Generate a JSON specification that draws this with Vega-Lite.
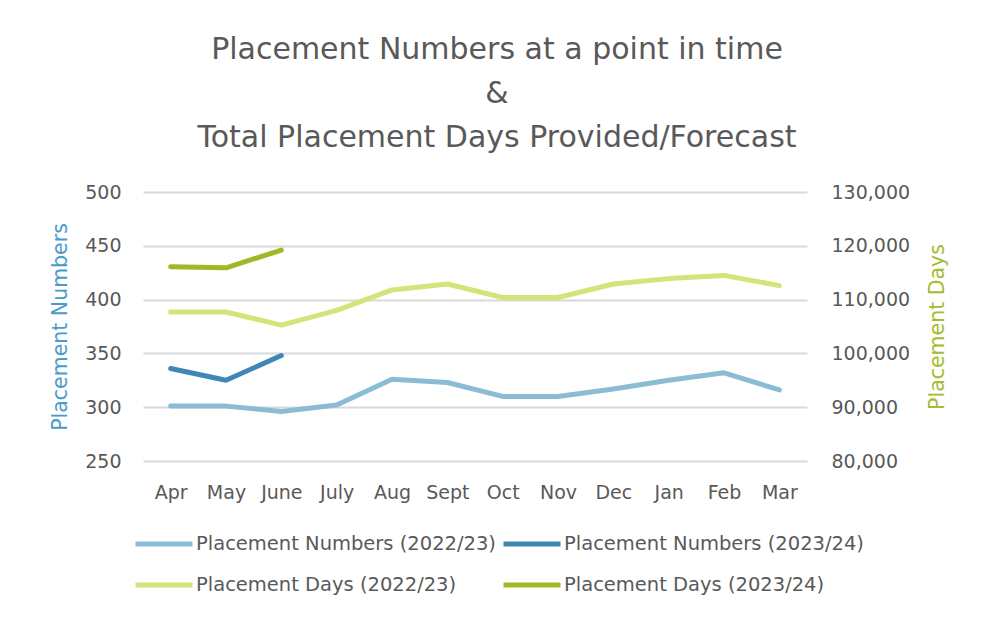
{
  "$schema": "https://vega.github.io/schema/vega-lite/v6.json",
  "width": 664,
  "height": 269,
  "autosize": {"type": "none"},
  "padding": {"left": 143, "top": 192, "right": 174, "bottom": 159},
  "background": "white",
  "title": {
    "text": ["Placement Numbers at a point in time", "&", "Total Placement Days Provided/Forecast"],
    "font": "DejaVu Sans",
    "fontSize": 30,
    "fontWeight": "normal",
    "color": "#595959",
    "lineHeight": 44,
    "anchor": "middle",
    "frame": "group",
    "dx": 22,
    "offset": 30
  },
  "config": {
    "view": {"stroke": null},
    "axis": {
      "labelFont": "DejaVu Sans",
      "labelFontSize": 19,
      "labelColor": "#595959",
      "titleFont": "DejaVu Sans",
      "titleFontSize": 20.5,
      "titleFontWeight": "normal",
      "domain": false,
      "ticks": false,
      "labelOverlap": false,
      "gridColor": "#D9D9D9",
      "gridWidth": 2
    },
    "legend": {
      "labelFont": "DejaVu Sans",
      "labelFontSize": 19.5,
      "labelColor": "#595959",
      "labelLimit": 500
    }
  },
  "data": {
    "values": [
      {"month": "Apr", "series": "Placement Numbers (2022/23)", "measure": "Numbers", "value": 301},
      {"month": "May", "series": "Placement Numbers (2022/23)", "measure": "Numbers", "value": 301},
      {"month": "June", "series": "Placement Numbers (2022/23)", "measure": "Numbers", "value": 296},
      {"month": "July", "series": "Placement Numbers (2022/23)", "measure": "Numbers", "value": 302},
      {"month": "Aug", "series": "Placement Numbers (2022/23)", "measure": "Numbers", "value": 326},
      {"month": "Sept", "series": "Placement Numbers (2022/23)", "measure": "Numbers", "value": 323},
      {"month": "Oct", "series": "Placement Numbers (2022/23)", "measure": "Numbers", "value": 310},
      {"month": "Nov", "series": "Placement Numbers (2022/23)", "measure": "Numbers", "value": 310},
      {"month": "Dec", "series": "Placement Numbers (2022/23)", "measure": "Numbers", "value": 317},
      {"month": "Jan", "series": "Placement Numbers (2022/23)", "measure": "Numbers", "value": 325},
      {"month": "Feb", "series": "Placement Numbers (2022/23)", "measure": "Numbers", "value": 332},
      {"month": "Mar", "series": "Placement Numbers (2022/23)", "measure": "Numbers", "value": 316},
      {"month": "Apr", "series": "Placement Numbers (2023/24)", "measure": "Numbers", "value": 336},
      {"month": "May", "series": "Placement Numbers (2023/24)", "measure": "Numbers", "value": 325},
      {"month": "June", "series": "Placement Numbers (2023/24)", "measure": "Numbers", "value": 348},
      {"month": "Apr", "series": "Placement Days (2022/23)", "measure": "Days", "value": 107700},
      {"month": "May", "series": "Placement Days (2022/23)", "measure": "Days", "value": 107700},
      {"month": "June", "series": "Placement Days (2022/23)", "measure": "Days", "value": 105250},
      {"month": "July", "series": "Placement Days (2022/23)", "measure": "Days", "value": 108000},
      {"month": "Aug", "series": "Placement Days (2022/23)", "measure": "Days", "value": 111800},
      {"month": "Sept", "series": "Placement Days (2022/23)", "measure": "Days", "value": 112900},
      {"month": "Oct", "series": "Placement Days (2022/23)", "measure": "Days", "value": 110400},
      {"month": "Nov", "series": "Placement Days (2022/23)", "measure": "Days", "value": 110400},
      {"month": "Dec", "series": "Placement Days (2022/23)", "measure": "Days", "value": 112900},
      {"month": "Jan", "series": "Placement Days (2022/23)", "measure": "Days", "value": 113900},
      {"month": "Feb", "series": "Placement Days (2022/23)", "measure": "Days", "value": 114500},
      {"month": "Mar", "series": "Placement Days (2022/23)", "measure": "Days", "value": 112600},
      {"month": "Apr", "series": "Placement Days (2023/24)", "measure": "Days", "value": 116100},
      {"month": "May", "series": "Placement Days (2023/24)", "measure": "Days", "value": 115900},
      {"month": "June", "series": "Placement Days (2023/24)", "measure": "Days", "value": 119200}
    ]
  },
  "encoding": {
    "x": {
      "field": "month",
      "type": "ordinal",
      "sort": ["Apr", "May", "June", "July", "Aug", "Sept", "Oct", "Nov", "Dec", "Jan", "Feb", "Mar"],
      "scale": {"type": "point", "padding": 0.5},
      "axis": {"title": null, "labelAngle": 0, "labelPadding": 22, "grid": false}
    },
    "color": {
      "field": "series",
      "type": "nominal",
      "scale": {
        "domain": ["Placement Numbers (2022/23)", "Placement Numbers (2023/24)", "Placement Days (2022/23)", "Placement Days (2023/24)"],
        "range": ["#8BBCD6", "#3F87B5", "#D5E37A", "#A3B826"]
      },
      "legend": {
        "title": null,
        "orient": "none",
        "legendX": -10,
        "legendY": 321,
        "direction": "horizontal",
        "columns": 2,
        "symbolType": "stroke",
        "symbolSize": 3249,
        "symbolStrokeWidth": 5,
        "labelOffset": 1,
        "columnPadding": -3,
        "rowPadding": -13
      }
    }
  },
  "layer": [
    {
      "transform": [{"filter": "datum.measure === 'Numbers'"}],
      "mark": {"type": "line", "strokeWidth": 5, "strokeCap": "round", "strokeJoin": "round"},
      "encoding": {
        "y": {
          "field": "value",
          "type": "quantitative",
          "scale": {"domain": [250, 500], "nice": false, "zero": false},
          "axis": {"title": "Placement Numbers", "titleColor": "#4A9BCB", "values": [250, 300, 350, 400, 450, 500], "labelPadding": 22, "titlePadding": 14, "grid": true}
        }
      }
    },
    {
      "transform": [{"filter": "datum.measure === 'Days'"}],
      "mark": {"type": "line", "strokeWidth": 5, "strokeCap": "round", "strokeJoin": "round"},
      "encoding": {
        "y": {
          "field": "value",
          "type": "quantitative",
          "scale": {"domain": [80000, 130000], "nice": false, "zero": false},
          "axis": {"title": "Placement Days", "titleColor": "#A3BD31", "orient": "right", "titleAngle": 270, "format": ",d", "values": [80000, 90000, 100000, 110000, 120000, 130000], "labelPadding": 24, "titlePadding": 38, "grid": false}
        }
      }
    }
  ],
  "resolve": {"scale": {"y": "independent"}}
}
